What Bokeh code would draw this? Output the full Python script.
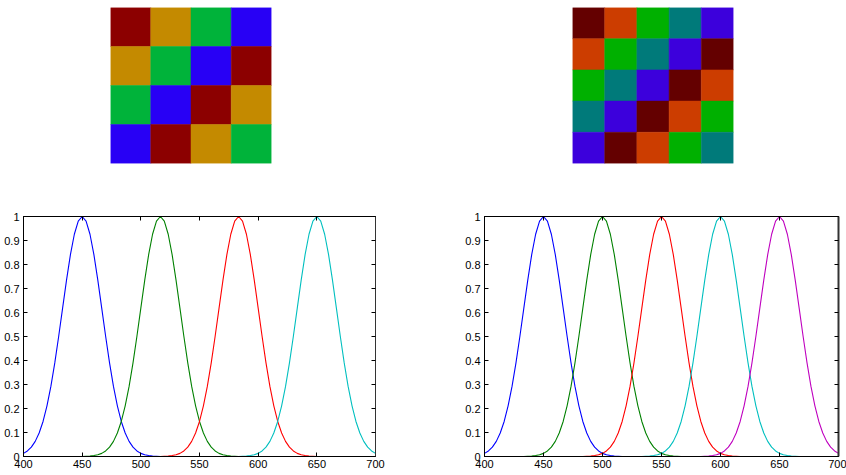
from bokeh.plotting import figure
from bokeh.layouts import column, row
from bokeh.models import Range1d, FixedTicker, CustomJSTickFormatter, LinearAxis
from bokeh.embed import file_html
from bokeh.resources import INLINE

# ---------------- data ----------------
# sampling grid of the curves: 400 .. 700 nm, 91 samples (step 10/3 nm)
wavelength = [400 + i * 10 / 3 for i in range(91)]

x_ticks = [400, 450, 500, 550, 600, 650, 700]
y_ticks = [0, 0.1, 0.2, 0.3, 0.4, 0.5, 0.6, 0.7, 0.8, 0.9, 1]

# left plot: 4 channels (peaks at 450, 516.7, 583.3, 650 nm)
left_blue = ([0.013, 0.023, 0.039, 0.063, 0.098, 0.146, 0.211, 0.292, 0.390, 0.501,
              0.618, 0.735, 0.841, 0.926, 0.981, 1.000, 0.981, 0.926, 0.841, 0.735,
              0.618, 0.501, 0.390, 0.292, 0.211, 0.146, 0.098, 0.063, 0.039, 0.023,
              0.013, 0.007, 0.004, 0.002, 0.001] + [0] * 56)
left_green = ([0] * 16 +
              [0.001, 0.002, 0.004, 0.007, 0.013, 0.023, 0.039, 0.063, 0.098, 0.146,
               0.211, 0.292, 0.390, 0.501, 0.618, 0.735, 0.841, 0.926, 0.981, 1.000,
               0.981, 0.926, 0.841, 0.735, 0.618, 0.501, 0.390, 0.292, 0.211, 0.146,
               0.098, 0.063, 0.039, 0.023, 0.013, 0.007, 0.004, 0.002, 0.001] + [0] * 36)
left_red = ([0] * 36 +
            [0.001, 0.002, 0.004, 0.007, 0.013, 0.023, 0.039, 0.063, 0.098, 0.146,
             0.211, 0.292, 0.390, 0.501, 0.618, 0.735, 0.841, 0.926, 0.981, 1.000,
             0.981, 0.926, 0.841, 0.735, 0.618, 0.501, 0.390, 0.292, 0.211, 0.146,
             0.098, 0.063, 0.039, 0.023, 0.013, 0.007, 0.004, 0.002, 0.001] + [0] * 16)
left_cyan = ([0] * 56 +
             [0.001, 0.002, 0.004, 0.007, 0.013, 0.023, 0.039, 0.063, 0.098, 0.146,
              0.211, 0.292, 0.390, 0.501, 0.618, 0.735, 0.841, 0.926, 0.981, 1.000,
              0.981, 0.926, 0.841, 0.735, 0.618, 0.501, 0.390, 0.292, 0.211, 0.146,
              0.098, 0.063, 0.039, 0.023, 0.013])

# right plot: 5 channels (peaks at 450, 500, 550, 600, 650 nm)
right_blue = ([0.013, 0.023, 0.039, 0.063, 0.098, 0.146, 0.211, 0.292, 0.390, 0.501,
               0.618, 0.735, 0.841, 0.926, 0.981, 1.000, 0.981, 0.926, 0.841, 0.735,
               0.618, 0.501, 0.390, 0.292, 0.211, 0.146, 0.098, 0.063, 0.039, 0.023,
               0.013, 0.007, 0.004, 0.002, 0.001] + [0] * 56)
right_green = ([0] * 11 +
               [0.001, 0.002, 0.004, 0.007, 0.013, 0.023, 0.039, 0.063, 0.098, 0.146,
                0.211, 0.292, 0.390, 0.501, 0.618, 0.735, 0.841, 0.926, 0.981, 1.000,
                0.981, 0.926, 0.841, 0.735, 0.618, 0.501, 0.390, 0.292, 0.211, 0.146,
                0.098, 0.063, 0.039, 0.023, 0.013, 0.007, 0.004, 0.002, 0.001] + [0] * 41)
right_red = ([0] * 26 +
             [0.001, 0.002, 0.004, 0.007, 0.013, 0.023, 0.039, 0.063, 0.098, 0.146,
              0.211, 0.292, 0.390, 0.501, 0.618, 0.735, 0.841, 0.926, 0.981, 1.000,
              0.981, 0.926, 0.841, 0.735, 0.618, 0.501, 0.390, 0.292, 0.211, 0.146,
              0.098, 0.063, 0.039, 0.023, 0.013, 0.007, 0.004, 0.002, 0.001] + [0] * 26)
right_cyan = ([0] * 41 +
              [0.001, 0.002, 0.004, 0.007, 0.013, 0.023, 0.039, 0.063, 0.098, 0.146,
               0.211, 0.292, 0.390, 0.501, 0.618, 0.735, 0.841, 0.926, 0.981, 1.000,
               0.981, 0.926, 0.841, 0.735, 0.618, 0.501, 0.390, 0.292, 0.211, 0.146,
               0.098, 0.063, 0.039, 0.023, 0.013, 0.007, 0.004, 0.002, 0.001] + [0] * 11)
right_magenta = ([0] * 56 +
                 [0.001, 0.002, 0.004, 0.007, 0.013, 0.023, 0.039, 0.063, 0.098, 0.146,
                  0.211, 0.292, 0.390, 0.501, 0.618, 0.735, 0.841, 0.926, 0.981, 1.000,
                  0.981, 0.926, 0.841, 0.735, 0.618, 0.501, 0.390, 0.292, 0.211, 0.146,
                  0.098, 0.063, 0.039, 0.023, 0.013])

# colour grids (row 0 = top row), values index into the palette
left_grid_palette = ["#8c0000", "#c48a00", "#00b33a", "#2800f5"]
left_grid = [[0, 1, 2, 3],
             [1, 2, 3, 0],
             [2, 3, 0, 1],
             [3, 0, 1, 2]]
right_grid_palette = ["#640000", "#cc3d00", "#00b000", "#007a7a", "#3c00dc"]
right_grid = [[0, 1, 2, 3, 4],
              [1, 2, 3, 4, 0],
              [2, 3, 4, 0, 1],
              [3, 4, 0, 1, 2],
              [4, 0, 1, 2, 3]]

line_colors_left = ["#0000ff", "#008000", "#ff0000", "#00bfbf"]
line_colors_right = ["#0000ff", "#008000", "#ff0000", "#00bfbf", "#bf00bf"]

FONT = "Liberation Sans"


def grid_figure(grid, palette, width, height, bl, br, bt, bb):
    n = len(grid)
    p = figure(width=width, height=height, x_range=Range1d(0, n), y_range=Range1d(0, n),
               output_backend="svg", toolbar_location=None,
               min_border_left=bl, min_border_right=br, min_border_top=bt, min_border_bottom=bb,
               x_axis_type=None, y_axis_type=None)
    p.grid.visible = False
    p.outline_line_color = None
    xs, ys, cs = [], [], []
    for r, rowvals in enumerate(grid):
        for c, v in enumerate(rowvals):
            xs.append(c + 0.5)
            ys.append(n - r - 0.5)
            cs.append(palette[v])
    p.rect(x=xs, y=ys, width=1, height=1, fill_color=cs, line_color=cs, line_width=0.5)
    return p


def style_axis(ax, show_labels):
    ax.axis_line_color = "black"
    ax.major_tick_in = 4
    ax.major_tick_out = 0
    ax.minor_tick_line_color = None
    ax.major_tick_line_color = "black"
    if show_labels:
        ax.major_label_text_font = FONT
        ax.major_label_text_font_size = "11px"
        ax.major_label_text_color = "#000000"
    else:
        ax.major_label_text_font_size = "0px"
        ax.major_label_text_color = None
        ax.major_label_standoff = 0


def line_figure(series, colors, width, height, bl, br, bt, bb, right_width=1):
    p = figure(width=width, height=height, x_range=Range1d(400, 700), y_range=Range1d(0, 1),
               output_backend="svg", toolbar_location=None,
               min_border_left=bl, min_border_right=br, min_border_top=bt, min_border_bottom=bb)
    p.grid.visible = False
    p.outline_line_color = "black"
    fmt = CustomJSTickFormatter(code="return String(Math.round(tick*10)/10);")
    p.xaxis.ticker = FixedTicker(ticks=x_ticks)
    p.yaxis.ticker = FixedTicker(ticks=y_ticks)
    p.xaxis.formatter = fmt
    p.yaxis.formatter = fmt
    style_axis(p.xaxis[0], True)
    style_axis(p.yaxis[0], True)
    p.xaxis.major_label_standoff = 3
    p.yaxis.major_label_standoff = 4
    top = LinearAxis(ticker=FixedTicker(ticks=x_ticks))
    right = LinearAxis(ticker=FixedTicker(ticks=y_ticks))
    style_axis(top, False)
    style_axis(right, False)
    right.axis_line_width = right_width
    right.axis_line_color = "#333333"
    p.add_layout(top, "above")
    p.add_layout(right, "right")
    for ys, col in zip(series, colors):
        p.line(wavelength, ys, line_color=col, line_width=1.1)
    return p


top_left = grid_figure(left_grid, left_grid_palette, 423, 190, 110, 152, 2, 27)
top_right = grid_figure(right_grid, right_grid_palette, 423, 190, 149, 113, 7, 22)
bottom_left = line_figure([left_blue, left_green, left_red, left_cyan], line_colors_left,
                          423, 285, 23, 48, 26, 18)
bottom_right = line_figure([right_blue, right_green, right_red, right_cyan, right_magenta],
                           line_colors_right, 423, 285, 61, 8, 26, 19, right_width=2)

layout = column(row(top_left, top_right), row(bottom_left, bottom_right),
                styles={"position": "absolute", "left": "0px", "top": "0px"})

open("out.html", "w").write(file_html(layout, INLINE))
